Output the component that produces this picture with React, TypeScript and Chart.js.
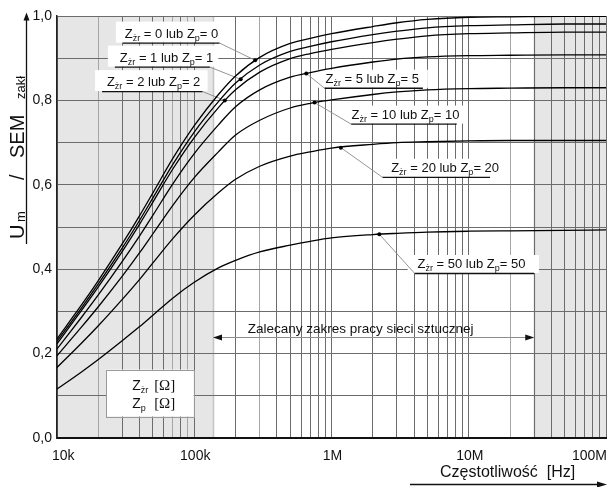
import React, { useEffect, useRef } from 'react';
import { Chart, registerables } from 'chart.js';

Chart.register(...registerables);

// ---------------- data ----------------
const frequencies = [1e4, 1.5e4, 2e4, 3e4, 4e4, 5e4, 7e4, 1e5, 1.5e5, 2e5, 3e5, 5e5, 7e5, 1e6, 2e6, 3e6, 5e6, 1e7, 2e7, 5e7, 1e8];

const seriesZ0 = [0.235, 0.314, 0.373, 0.461, 0.527, 0.581, 0.663, 0.740, 0.814, 0.858, 0.902, 0.935, 0.947, 0.958, 0.975, 0.984, 0.992, 0.997, 0.998, 0.999, 0.999];
const seriesZ1 = [0.229, 0.307, 0.365, 0.451, 0.516, 0.569, 0.649, 0.725, 0.797, 0.841, 0.884, 0.916, 0.928, 0.939, 0.956, 0.964, 0.972, 0.977, 0.979, 0.981, 0.981];
const seriesZ2 = [0.223, 0.301, 0.358, 0.443, 0.507, 0.559, 0.638, 0.712, 0.783, 0.825, 0.867, 0.899, 0.911, 0.921, 0.937, 0.945, 0.953, 0.958, 0.960, 0.962, 0.962];
const seriesZ5 = [0.211, 0.285, 0.339, 0.419, 0.479, 0.528, 0.603, 0.674, 0.742, 0.785, 0.825, 0.855, 0.866, 0.876, 0.891, 0.898, 0.903, 0.906, 0.907, 0.908, 0.908];
const seriesZ10 = [0.195, 0.262, 0.311, 0.384, 0.439, 0.484, 0.552, 0.617, 0.678, 0.718, 0.753, 0.782, 0.793, 0.801, 0.814, 0.820, 0.825, 0.828, 0.829, 0.830, 0.830];
const seriesZ20 = [0.167, 0.224, 0.266, 0.329, 0.376, 0.415, 0.473, 0.528, 0.581, 0.613, 0.644, 0.668, 0.678, 0.687, 0.696, 0.700, 0.702, 0.704, 0.705, 0.705, 0.705];
const seriesZ50 = [0.116, 0.156, 0.186, 0.231, 0.264, 0.291, 0.332, 0.369, 0.403, 0.421, 0.441, 0.457, 0.466, 0.474, 0.482, 0.485, 0.488, 0.490, 0.491, 0.492, 0.493];

const impedances = [0, 1, 2, 5, 10, 20, 50];
const curveSeries = [seriesZ0, seriesZ1, seriesZ2, seriesZ5, seriesZ10, seriesZ20, seriesZ50];

// label marker points on the curves
const markerFreqs = [2.78e5, 2.18e5, 1.67e5, 6.55e5, 7.52e5, 1.17e6, 2.23e6];
const markerValues = [0.895, 0.850, 0.800, 0.864, 0.795, 0.688, 0.483];

// curve label anchors (data space)
const labelTextStart = [3.12e4, 2.87e4, 2.31e4, 9.04e5, 1.4e6, 2.72e6, 4.23e6];
const labelLineStart = [3.02e4, 2.64e4, 2.13e4, 8.89e5, 1.39e6, 2.35e6, 4.04e6];
const labelLineEnd = [1.53e5, 1.3e5, 1.15e5, 4.63e6, 8.17e6, 1.43e7, 2.99e7];
const labelLineValue = [0.937, 0.88, 0.822, 0.83, 0.745, 0.619, 0.391];
const leaderFromEnd = [true, true, true, false, false, false, false];

// axis ticks
const xTickValues = [1e4, 1e5, 1e6, 1e7, 1e8];
const xTickLabels = ['10k', '100k', '1M', '10M', '100M'];
const gridMultipliers = [1, 2, 3, 4, 5, 6, 7, 8, 9];
const lightGridValues = [2e4, 7e4, 9e4, 3e5, 2e7];

// shaded bands & recommended range
const shadedBands = [[1e4, 1.37e5], [3.0e7, 1e8]];
const recommendedRange = [1.37e5, 3.0e7];
const recommendedValue = 0.2396;
const recommendedTextFreq = 1.63e6;
const recommendedText = 'Zalecany zakres pracy sieci sztucznej';

// unit box (data space)
const unitBox = { f1: 2.28e4, f2: 9.9e4, v1: 0.162, v2: 0.051 };

const SANS = '"Liberation Sans", Arial, Helvetica, sans-serif';
const SERIF = '"Liberation Serif", "Times New Roman", serif';

type Part = { t: string; sub?: boolean };

function drawRich(ctx: CanvasRenderingContext2D, parts: Part[], x: number, y: number, main: string, sub: string, drop: number) {
  let cx = x;
  for (const p of parts) {
    ctx.font = p.sub ? sub : main;
    ctx.fillText(p.t, cx, y + (p.sub ? drop : 0));
    cx += ctx.measureText(p.t).width;
  }
  return cx - x;
}

function measureRich(ctx: CanvasRenderingContext2D, parts: Part[], main: string, sub: string) {
  let w = 0;
  for (const p of parts) {
    ctx.font = p.sub ? sub : main;
    w += ctx.measureText(p.t).width;
  }
  return w;
}

function arrowHead(ctx: CanvasRenderingContext2D, tipX: number, tipY: number, dir: 'left' | 'right' | 'up', len: number, half: number) {
  ctx.beginPath();
  ctx.moveTo(tipX, tipY);
  if (dir === 'left') {
    ctx.lineTo(tipX + len, tipY - half);
    ctx.lineTo(tipX + len, tipY + half);
  } else if (dir === 'right') {
    ctx.lineTo(tipX - len, tipY - half);
    ctx.lineTo(tipX - len, tipY + half);
  } else {
    ctx.lineTo(tipX - half, tipY + len);
    ctx.lineTo(tipX + half, tipY + len);
  }
  ctx.closePath();
  ctx.fill();
}

const decorPlugin = {
  id: 'decor',
  beforeDraw(chart: any) {
    const { ctx, chartArea } = chart;
    const x = chart.scales.x;
    ctx.save();
    ctx.fillStyle = '#e6e6e6';
    for (const [a, b] of shadedBands) {
      const x1 = x.getPixelForValue(a);
      const x2 = x.getPixelForValue(b);
      ctx.fillRect(x1, chartArea.top, x2 - x1, chartArea.bottom - chartArea.top);
    }
    ctx.strokeStyle = '#c4c4c4';
    ctx.lineWidth = 1.5;
    for (const v of [shadedBands[0][1], shadedBands[1][0]]) {
      const px = Math.round(x.getPixelForValue(v)) + 0.5;
      ctx.beginPath();
      ctx.moveTo(px, chartArea.top);
      ctx.lineTo(px, chartArea.bottom);
      ctx.stroke();
    }
    ctx.restore();
  },
  beforeDatasetsDraw(chart: any) {
    const { ctx } = chart;
    const x = chart.scales.x;
    const y = chart.scales.y;
    ctx.save();
    const main = `13px ${SANS}`;
    const sub = `9px ${SANS}`;
    ctx.textAlign = 'left';
    ctx.textBaseline = 'alphabetic';

    // curve labels
    impedances.forEach((z, i) => {
      const parts: Part[] = [
        { t: 'Z' }, { t: 'żr', sub: true }, { t: ` = ${z} lub Z` }, { t: 'p', sub: true }, { t: `= ${z}` },
      ];
      const tx = x.getPixelForValue(labelTextStart[i]);
      const lx1 = x.getPixelForValue(labelLineStart[i]);
      const lx2 = x.getPixelForValue(labelLineEnd[i]);
      const ly = y.getPixelForValue(labelLineValue[i]);
      const w = measureRich(ctx, parts, main, sub);
      const bx1 = Math.min(tx, lx1) - 7;
      const bx2 = Math.max(tx + w, lx2) + 5;
      const bh = leaderFromEnd[i] ? 21 : 18;
      ctx.fillStyle = '#ffffff';
      ctx.fillRect(bx1, ly - bh, bx2 - bx1, bh);
      ctx.fillStyle = '#111';
      drawRich(ctx, parts, tx, ly - 5, main, sub, 3);
      ctx.strokeStyle = '#111';
      ctx.lineWidth = 1.3;
      ctx.beginPath();
      ctx.moveTo(lx1, ly + 0.5);
      ctx.lineTo(lx2, ly + 0.5);
      ctx.stroke();
      // leader
      const mx = x.getPixelForValue(markerFreqs[i]);
      const my = y.getPixelForValue(markerValues[i]);
      ctx.strokeStyle = '#8a8a8a';
      ctx.lineWidth = 0.9;
      ctx.beginPath();
      ctx.moveTo(leaderFromEnd[i] ? lx2 : lx1, ly + 0.5);
      ctx.lineTo(mx, my);
      ctx.stroke();
    });

    // unit box
    const ux1 = x.getPixelForValue(unitBox.f1);
    const ux2 = x.getPixelForValue(unitBox.f2);
    const uy1 = y.getPixelForValue(unitBox.v1);
    const uy2 = y.getPixelForValue(unitBox.v2);
    ctx.fillStyle = '#ffffff';
    ctx.fillRect(ux1, uy1, ux2 - ux1, uy2 - uy1);
    ctx.strokeStyle = '#9a9a9a';
    ctx.lineWidth = 1;
    ctx.strokeRect(Math.round(ux1) + 0.5, Math.round(uy1) + 0.5, Math.round(ux2 - ux1), Math.round(uy2 - uy1));
    ctx.fillStyle = '#111';
    const zx = ux1 + 26;
    const l1 = uy1 + 20;
    const l2 = uy1 + 38;
    drawRich(ctx, [{ t: 'Z' }, { t: 'żr', sub: true }], zx, l1, `14px ${SANS}`, `9px ${SANS}`, 3);
    drawRich(ctx, [{ t: 'Z' }, { t: 'p', sub: true }], zx, l2, `14px ${SANS}`, `9px ${SANS}`, 3);
    ctx.font = `15px ${SERIF}`;
    ctx.fillText('[Ω]', zx + 22, l1);
    ctx.fillText('[Ω]', zx + 22, l2);

    // recommended range arrow
    const ax1 = x.getPixelForValue(recommendedRange[0]);
    const ax2 = x.getPixelForValue(recommendedRange[1]);
    const ay = Math.round(y.getPixelForValue(recommendedValue)) + 0.5;
    ctx.strokeStyle = '#8c8c8c';
    ctx.lineWidth = 1;
    ctx.beginPath();
    ctx.moveTo(ax1 + 4, ay);
    ctx.lineTo(ax2 - 4, ay);
    ctx.stroke();
    ctx.fillStyle = '#111';
    arrowHead(ctx, ax1, ay, 'left', 9, 3);
    arrowHead(ctx, ax2, ay, 'right', 9, 3);
    ctx.font = `13.5px ${SANS}`;
    ctx.textAlign = 'center';
    ctx.fillText(recommendedText, x.getPixelForValue(recommendedTextFreq), ay - 4.5);
    ctx.restore();
  },
  afterDraw(chart: any) {
    const { ctx, chartArea } = chart;
    const x = chart.scales.x;
    ctx.save();
    ctx.fillStyle = '#111';
    ctx.font = `14px ${SANS}`;
    ctx.textBaseline = 'alphabetic';
    xTickValues.forEach((v, i) => {
      const px = x.getPixelForValue(v);
      if (i === 0) {
        ctx.textAlign = 'left';
        ctx.fillText(xTickLabels[i], px - 5, 460);
      } else if (i === xTickValues.length - 1) {
        ctx.textAlign = 'right';
        ctx.fillText(xTickLabels[i], px + 1, 460);
      } else {
        ctx.textAlign = 'center';
        ctx.fillText(xTickLabels[i], px + 1, 460);
      }
    });

    // x title and arrow
    ctx.textAlign = 'left';
    ctx.font = `16px ${SANS}`;
    ctx.fillText('Częstotliwość  [Hz]', 440, 476.5);
    ctx.strokeStyle = '#111';
    ctx.lineWidth = 1.3;
    ctx.beginPath();
    ctx.moveTo(410, 484.5);
    ctx.lineTo(600, 484.5);
    ctx.stroke();
    arrowHead(ctx, chartArea.right + 1, 484.5, 'right', 10, 3);

    // y title (rotated)
    ctx.save();
    ctx.translate(24, 0);
    ctx.rotate(-Math.PI / 2);
    ctx.textAlign = 'left';
    ctx.font = `20px ${SANS}`;
    ctx.fillText('U', -239, 0);
    ctx.font = `13px ${SANS}`;
    ctx.fillText('m', -222, 1);
    ctx.font = `20px ${SANS}`;
    ctx.fillText('/', -180, 0);
    ctx.fillText('SEM', -158, 0);
    ctx.font = `13px ${SANS}`;
    ctx.fillText('zakł', -99, 1);
    ctx.restore();

    // y arrow
    ctx.strokeStyle = '#111';
    ctx.lineWidth = 1.3;
    ctx.beginPath();
    ctx.moveTo(26.5, 244);
    ctx.lineTo(26.5, 19);
    ctx.stroke();
    arrowHead(ctx, 26.5, 12.5, 'up', 8, 3);
    ctx.restore();
  },
};

export default function App() {
  const canvasRef = useRef<HTMLCanvasElement | null>(null);

  useEffect(() => {
    if (!canvasRef.current) return;
    const gridTicks: number[] = [];
    for (let e = 4; e < 8; e++) {
      for (const m of gridMultipliers) gridTicks.push(m * Math.pow(10, e));
    }
    gridTicks.push(1e8);

    const datasets: any[] = curveSeries.map((s, i) => ({
      type: 'line',
      label: `Z = ${impedances[i]}`,
      data: frequencies.map((f, j) => ({ x: f, y: s[j] })),
      borderColor: '#000',
      borderWidth: 1.3,
      pointRadius: 0,
      cubicInterpolationMode: 'monotone',
      fill: false,
    }));
    datasets.push({
      type: 'scatter',
      label: 'markers',
      data: markerFreqs.map((f, i) => ({ x: f, y: markerValues[i] })),
      pointRadius: 2,
      pointBackgroundColor: '#000',
      pointBorderWidth: 0,
      showLine: false,
    });

    const chart = new Chart(canvasRef.current, {
      type: 'line',
      data: { datasets },
      plugins: [decorPlugin],
      options: {
        animation: false,
        responsive: false,
        devicePixelRatio: 1,
        layout: { padding: { left: 0, top: 16, right: 3, bottom: 0 } },
        plugins: { legend: { display: false }, tooltip: { enabled: false } },
        scales: {
          x: {
            type: 'logarithmic',
            min: 1e4,
            max: 1e8,
            afterBuildTicks: (scale: any) => {
              scale.ticks = gridTicks.map((v) => ({ value: v }));
            },
            afterFit: (scale: any) => {
              scale.height = 49;
            },
            ticks: { display: false, autoSkip: false },
            grid: {
              drawTicks: false,
              lineWidth: 1,
              color: (c: any) => (c.tick && lightGridValues.includes(c.tick.value) ? '#a6a6a6' : '#6c6c6c'),
            },
            border: { display: true, color: '#111', width: 2 },
          },
          y: {
            type: 'linear',
            min: 0,
            max: 1,
            afterFit: (scale: any) => {
              scale.width = 57;
            },
            ticks: {
              stepSize: 0.1,
              padding: 5,
              color: '#111',
              font: { family: SANS, size: 14 },
              callback: (v: any) => {
                const k = Math.round(Number(v) * 10);
                return k % 2 === 0 ? (k / 10).toFixed(1).replace('.', ',') : '';
              },
            },
            grid: { drawTicks: false, color: '#6c6c6c', lineWidth: 1 },
            border: { display: true, color: '#222', width: 1.5 },
          },
        },
      } as any,
    });
    return () => chart.destroy();
  }, []);

  return (
    <div style={{ position: 'fixed', left: 0, top: 0, width: 610, height: 487, background: '#fff' }}>
      <canvas ref={canvasRef} width={610} height={487} style={{ width: 610, height: 487, display: 'block' }} />
    </div>
  );
}
